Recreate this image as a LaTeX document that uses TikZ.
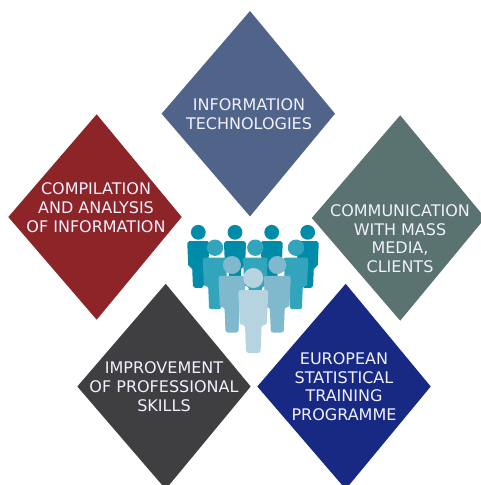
\documentclass[tikz,border=0pt]{standalone}
\usepackage{fontspec}
\setmainfont{DejaVu Sans}
\tikzset{
  lbl/.style={align=center,text=white!94!blue,inner sep=0pt,anchor=center,font=\fontsize{16pt}{18.8pt}\selectfont},
}
\newcommand{\dmd}[3]{%
  \fill[#3] ({#1+1.7},{#2-102.7}) -- ({#1+86.7},#2) -- ({#1+1.7},{#2+102.7}) -- ({#1-86.7},#2) -- cycle;}
\newcommand{\person}[4]{%
  \begin{scope}[shift={(#1,#2)},x=#3pt,y=-#3pt]
    \fill[#4] (0,0) circle (10);
    \fill[#4,rounded corners=2.6*#3pt]
      (-15,12) -- (15,12) -- (13.5,47) -- (8.3,47) -- (7.2,75) -- (-7.2,75) -- (-8.3,47) -- (-13.5,47) -- cycle;
  \end{scope}}
\definecolor{pa}{HTML}{008BA9}
\definecolor{pb}{HTML}{32A5BC}
\definecolor{pc}{HTML}{80B9CD}
\definecolor{pd}{HTML}{B5D4E0}
\definecolor{dinfo}{RGB}{80,100,138}
\definecolor{dcomp}{RGB}{140,36,40}
\definecolor{dcomm}{RGB}{90,114,112}
\definecolor{dimpr}{RGB}{63,63,65}
\definecolor{deuro}{RGB}{24,41,131}
\begin{document}
\begin{tikzpicture}[x=1pt,y=-1pt]
\useasboundingbox (0,0) rectangle (481,485);
\clip (0,0) rectangle (481,485);
\dmd{248.3}{113.7}{dinfo}
\dmd{95}{217}{dcomp}
\dmd{398.5}{218}{dcomm}
\dmd{164}{386.5}{dimpr}
\dmd{344}{386.5}{deuro}
\node[lbl] (infot) at (249,114.2) {INFORMATION\\TECHNOLOGIES};
\node[lbl] (compt) at (96,207.5) {COMPILATION\\AND ANALYSIS\\OF INFORMATION};
\node[lbl] (commt) at (400,238.7) {COMMUNICATION\\WITH MASS\\MEDIA,\\CLIENTS};
\node[lbl] (imprt) at (164,386.7) {IMPROVEMENT\\OF PROFESSIONAL\\SKILLS};
\node[lbl] (eurot) at (344,386.7) {EUROPEAN\\STATISTICAL\\TRAINING\\PROGRAMME};
\person{198.3}{232.3}{0.74}{pa}
\person{235}{232.3}{0.74}{pa}
\person{271.7}{232.3}{0.74}{pa}
\person{307.7}{232.3}{0.74}{pa}
\person{215}{247.7}{0.82}{pb}
\person{255.3}{247.7}{0.82}{pb}
\person{296}{247.7}{0.82}{pb}
\person{232}{265}{0.9}{pc}
\person{277.3}{265}{0.9}{pc}
\person{253.3}{278}{1}{pd}
\end{tikzpicture}
\end{document}
